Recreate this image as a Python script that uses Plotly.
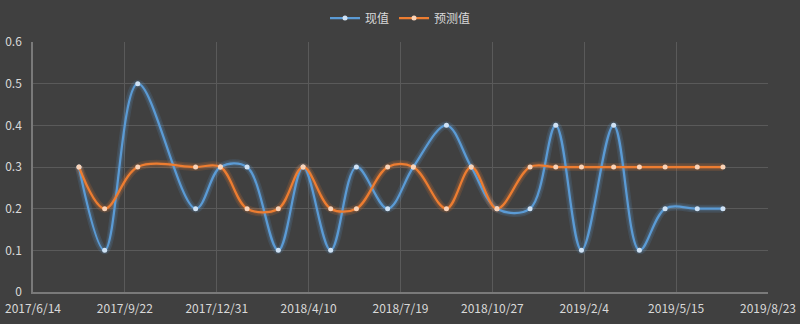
import plotly.graph_objects as go

dates = ["2017-08-03", "2017-08-31", "2017-10-06", "2017-12-08", "2018-01-04",
         "2018-02-02", "2018-03-08", "2018-04-04", "2018-05-04", "2018-06-01",
         "2018-07-05", "2018-08-02", "2018-09-07", "2018-10-04", "2018-11-01",
         "2018-12-07", "2019-01-04", "2019-02-01", "2019-03-08", "2019-04-05",
         "2019-05-03", "2019-06-07", "2019-07-05"]
actual = [0.3, 0.1, 0.5, 0.2, 0.3, 0.3, 0.1, 0.3, 0.1, 0.3, 0.2, 0.3,
          0.4, 0.3, 0.2, 0.2, 0.4, 0.1, 0.4, 0.1, 0.2, 0.2, 0.2]
predicted = [0.3, 0.2, 0.3, 0.3, 0.3, 0.2, 0.2, 0.3, 0.2, 0.2, 0.3, 0.3,
             0.2, 0.3, 0.2, 0.3, 0.3, 0.3, 0.3, 0.3, 0.3, 0.3, 0.3]
names = ["现值", "预测值"]
colors = ["#5b9bd5", "#ed7d31"]
glows = ["rgba(91,155,213,0.16)", "rgba(237,125,49,0.16)"]
marker_colors = ["#cfe2f5", "#f9d3b8"]

fig = go.Figure()
for ys, name, c, g in zip([actual, predicted], names, colors, glows):
    for w in (8, 5):
        fig.add_trace(go.Scatter(x=dates, y=ys, mode="lines",
                                 line=dict(color=g, width=w, shape="spline", smoothing=1.0),
                                 showlegend=False, hoverinfo="skip"))
for ys, name, c, mc in zip([actual, predicted], names, colors, marker_colors):
    fig.add_trace(go.Scatter(x=dates, y=ys, mode="lines+markers", name=name,
                             line=dict(color=c, width=2.25, shape="spline", smoothing=1.0),
                             marker=dict(size=5, color=mc, line=dict(width=0))))

font_family = "Noto Sans CJK SC, Noto Sans, sans-serif"
fig.update_layout(
    width=800, height=324,
    paper_bgcolor="#404040", plot_bgcolor="#404040",
    margin=dict(l=33, r=32, t=42, b=32, autoexpand=False),
    font=dict(family=font_family, size=12, color="#d9d9d9"),
    legend=dict(orientation="h", x=0.5, xanchor="center", xref="paper",
                y=1 - 18 / 324, yanchor="middle", yref="container",
                font=dict(size=12, color="#d9d9d9"), bgcolor="rgba(0,0,0,0)",
                itemwidth=30, traceorder="normal"),
    showlegend=True,
)
fig.update_xaxes(type="date", range=["2017-06-14", "2019-08-23"],
                 tick0="2017-06-14", dtick=100 * 86400000, tickformat="%Y/%-m/%-d",
                 showgrid=True, gridcolor="#5a5a5a", gridwidth=1,
                 showline=True, linecolor="#7a7a7a", linewidth=1.5,
                 ticks="", tickfont=dict(size=12, color="#d9d9d9"), zeroline=False,
                 ticklabelstandoff=5)
fig.update_yaxes(range=[0, 0.6], dtick=0.1, tickformat=".1~f",
                 showgrid=True, gridcolor="#5a5a5a", gridwidth=1,
                 showline=True, linecolor="#7a7a7a", linewidth=1.5,
                 ticks="", tickfont=dict(size=12, color="#d9d9d9"), zeroline=False,
                 ticklabelstandoff=7)
fig.write_html("out.html")
